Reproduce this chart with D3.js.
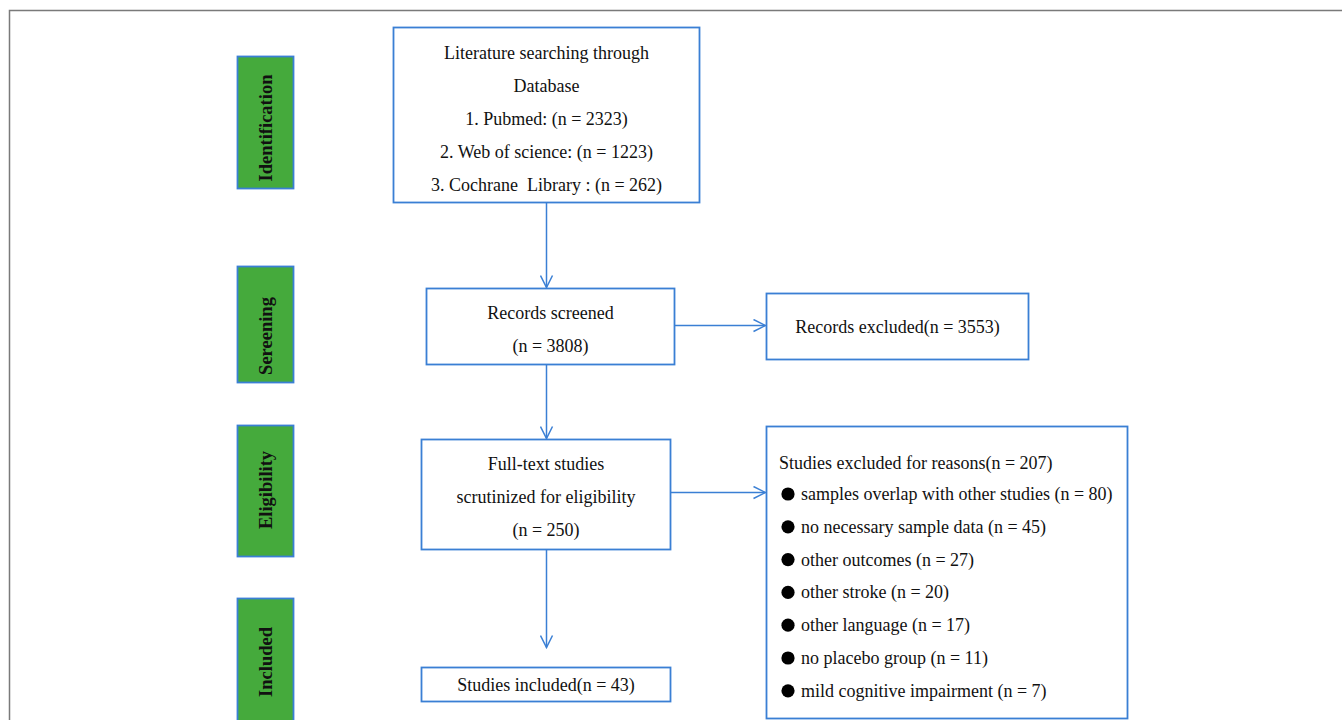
<!DOCTYPE html>
<html>
<head>
<meta charset="utf-8">
<script src="https://cdn.jsdelivr.net/npm/d3@7/dist/d3.min.js"></script>
<style>
  html, body { margin: 0; padding: 0; background: #fff; }
  svg { display: block; }
</style>
</head>
<body>
<svg id="chart" width="1342" height="720"></svg>
<script>
// ---- Data ----
const stages = ["Identification", "Sereening", "Eligibility", "Included"];
const identificationLines = ["Literature searching through", "Database", "1. Pubmed: (n = 2323)", "2. Web of science: (n = 1223)", "3. Cochrane  Library : (n = 262)"];
const screenedLines = ["Records screened", "(n = 3808)"];
const excludedLines = ["Records excluded(n = 3553)"];
const fulltextLines = ["Full-text studies", "scrutinized for eligibility", "(n = 250)"];
const includedLines = ["Studies included(n = 43)"];
const reasonsHeader = "Studies excluded for reasons(n = 207)";
const reasonLabels = ["samples overlap with other studies", "no necessary sample data", "other outcomes", "other stroke", "other language", "no placebo group", "mild cognitive impairment"];
const reasonCounts = [80, 45, 27, 20, 17, 11, 7];

// ---- Layout ----
const svg = d3.select("#chart");
const BLUE = "#3a7fd4";
const GREEN = "#45aa3c";
const FONT = "'Liberation Serif', 'Times New Roman', serif";
const FS = 18;
const LINE = 33;

// frame
svg.append("path").attr("d", "M9.5,720 V10.5 H1342")
  .attr("fill", "none").attr("stroke", "#7a7a7a").attr("stroke-width", 1.5);

// marker
const defs = svg.append("defs");
defs.append("marker").attr("id", "arrow")
  .attr("viewBox", "0 0 14 14").attr("refX", 13).attr("refY", 7)
  .attr("markerWidth", 14).attr("markerHeight", 14)
  .attr("markerUnits", "userSpaceOnUse").attr("orient", "auto")
  .append("path").attr("d", "M1,1 L13,7 L1,13")
  .attr("fill", "none").attr("stroke", BLUE).attr("stroke-width", 1.5);

// stage labels
const stageBoxes = [
  {y0: 56, y1: 188, cy: 128}, {y0: 266, y1: 382, cy: 336}, {y0: 425, y1: 556, cy: 490}, {y0: 598, y1: 726, cy: 662}
];
const stageData = stages.map((s, i) => ({label: s, ...stageBoxes[i]}));
const sg = svg.selectAll("g.stage").data(stageData).join("g").attr("class", "stage");
sg.append("rect").attr("x", 237.5).attr("y", d => d.y0 + 0.5)
  .attr("width", 56).attr("height", d => d.y1 - d.y0)
  .attr("fill", GREEN).attr("stroke", BLUE).attr("stroke-width", 1.8);
sg.append("text")
  .attr("transform", d => `translate(266,${d.cy}) rotate(-90)`)
  .attr("text-anchor", "middle").attr("dominant-baseline", "central")
  .attr("font-family", FONT).attr("font-weight", "bold").attr("font-size", 18.5)
  .attr("fill", "#111").text(d => d.label);

// flow boxes
const boxes = [
  {x0: 393, x1: 699, y0: 27, y1: 202, lines: identificationLines, firstY: 53},
  {x0: 426, x1: 674, y0: 288, y1: 364, lines: screenedLines, firstY: 313},
  {x0: 766, x1: 1028, y0: 293, y1: 359, lines: excludedLines, firstY: 327},
  {x0: 421, x1: 670, y0: 439, y1: 549, lines: fulltextLines, firstY: 464},
  {x0: 421, x1: 670, y0: 667, y1: 701, lines: includedLines, firstY: 685}
];
const bg = svg.selectAll("g.box").data(boxes).join("g").attr("class", "box");
bg.append("rect").attr("x", d => d.x0 + 0.5).attr("y", d => d.y0 + 0.5)
  .attr("width", d => d.x1 - d.x0).attr("height", d => d.y1 - d.y0)
  .attr("fill", "#fff").attr("stroke", BLUE).attr("stroke-width", 1.8);
bg.each(function(d) {
  d3.select(this).selectAll("text").data(d.lines).join("text")
    .attr("x", (d.x0 + d.x1) / 2 + 0.5)
    .attr("y", (t, i) => d.firstY + i * LINE)
    .attr("text-anchor", "middle").attr("dominant-baseline", "central")
    .attr("font-family", FONT).attr("font-size", FS).attr("fill", "#111")
    .attr("xml:space", "preserve").style("white-space", "pre")
    .text(t => t);
});

// reasons box
const rb = {x0: 766, x1: 1127, y0: 426, y1: 718};
svg.append("rect").attr("x", rb.x0 + 0.5).attr("y", rb.y0 + 0.5)
  .attr("width", rb.x1 - rb.x0).attr("height", rb.y1 - rb.y0)
  .attr("fill", "#fff").attr("stroke", BLUE).attr("stroke-width", 1.8);
svg.append("text").attr("x", 779).attr("y", 463)
  .attr("dominant-baseline", "central")
  .attr("font-family", FONT).attr("font-size", FS).attr("fill", "#111")
  .text(reasonsHeader);
const yReason = d3.scalePoint().domain(d3.range(reasonLabels.length)).range([494, 494 + 6 * 32.8]);
const rg = svg.selectAll("g.reason").data(reasonLabels.map((l, i) => ({l, n: reasonCounts[i], i})))
  .join("g").attr("class", "reason");
rg.append("circle").attr("cx", 788).attr("cy", d => yReason(d.i)).attr("r", 6.6).attr("fill", "#000");
rg.append("text").attr("x", 801).attr("y", d => yReason(d.i))
  .attr("dominant-baseline", "central")
  .attr("font-family", FONT).attr("font-size", FS).attr("fill", "#111")
  .text(d => `${d.l} (n = ${d.n})`);

// arrows
const arrows = [
  [[546, 202], [546, 287]],
  [[674, 325], [765, 325]],
  [[546, 364], [546, 438]],
  [[670, 492], [765, 492]],
  [[546, 549], [546, 647]]
];
svg.selectAll("path.arrow").data(arrows).join("path").attr("class", "arrow")
  .attr("d", d => d3.line()(d.map(p => [p[0] + 0.5, p[1] + 0.5])))
  .attr("fill", "none").attr("stroke", BLUE).attr("stroke-width", 1.5)
  .attr("marker-end", "url(#arrow)");
</script>
</body>
</html>
